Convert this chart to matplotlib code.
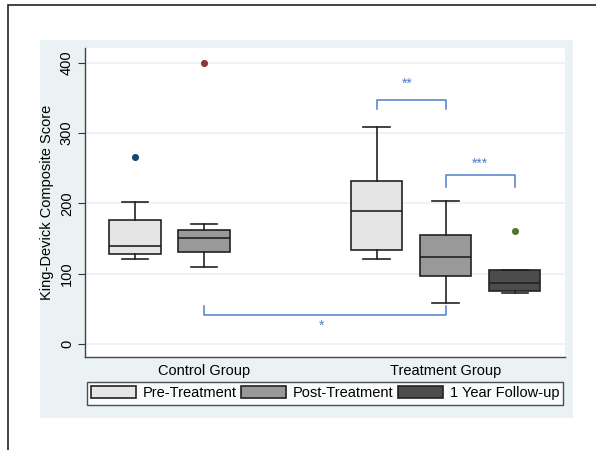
import matplotlib
matplotlib.use('Agg')
import matplotlib.pyplot as plt
from matplotlib.patches import Rectangle, Patch

plt.rcParams['font.family'] = ['Liberation Sans', 'DejaVu Sans']

# data (King-Devick composite score)
groups = ['Control Group', 'Treatment Group']
phases = ['Pre-Treatment', 'Post-Treatment', '1 Year Follow-up']
positions = [0, 1, 3.5, 4.5, 5.5]
phase_idx = [0, 1, 0, 1, 2]
whislo = [121, 109, 121, 58, 72]
q1 = [128, 131, 134, 97, 76]
med = [140, 151, 189, 124, 86]
q3 = [176, 162, 232, 155, 105]
whishi = [202, 170, 309, 203, 105]
fliers = [[266], [400], [], [], [161]]
group_centers = [1, 4.5]

fills = ['#e5e5e5', '#999999', '#4c4c4c']
flier_cols = ['#1a476f', '#90353b', None, None, '#55752f']
sig_col = '#4f7fc6'
bg = '#eaf2f3'

# significance brackets: (x0, x1, y_bar, y_leg, label, y_text, x_text)
brackets = [(3.5, 4.5, 347, 334, '**', 370, 3.95),
            (4.5, 5.5, 241, 223, '***', 256, 5.0),
            (1.0, 4.5, 41, 54, '*', 26, 2.7)]

fig = plt.figure(figsize=(5.96, 4.5), dpi=100)
fig.patch.set_facecolor('white')
fig.patches.append(Rectangle((40/596, 1-418/450), 533/596, 378/450,
                             transform=fig.transFigure, facecolor=bg, edgecolor='none', zorder=-2))
fig.patches.append(Rectangle((8/596, -0.1), 1.2, 1.1 - 5/450,
                             transform=fig.transFigure, facecolor='none', edgecolor='#222222',
                             linewidth=1.2, zorder=-1))

ax = fig.add_axes([85/596, 1-357/450, 480/596, 309/450])
ax.set_facecolor('white')

stats = []
for i in range(len(positions)):
    stats.append(dict(whislo=whislo[i], q1=q1[i], med=med[i], q3=q3[i],
                      whishi=whishi[i], fliers=[]))
bp = ax.bxp(stats, positions=positions, widths=0.75, capwidths=0.38,
            patch_artist=True, showfliers=False,
            boxprops=dict(linewidth=1.2, edgecolor='#222222'),
            medianprops=dict(color='#222222', linewidth=1.2),
            whiskerprops=dict(color='#222222', linewidth=1.2),
            capprops=dict(color='#222222', linewidth=1.2))
for b, p in zip(bp['boxes'], phase_idx):
    b.set_facecolor(fills[p])

for i, f in enumerate(fliers):
    if f:
        ax.scatter([positions[i]] * len(f), f, s=26, color=flier_cols[i], zorder=3, linewidths=0)

for x0, x1, yb, yl, lab, yt, xt in brackets:
    ax.plot([x0, x0, x1, x1], [yl, yb, yb, yl], color=sig_col, linewidth=1.1)
    ax.text(xt, yt, lab, color=sig_col, ha='center', va='center', fontsize=10)

ax.set_xlim(-0.725, 6.23)
ax.set_ylim(-18.6, 421)
ax.set_yticks([0, 100, 200, 300, 400])
ax.tick_params(axis='y', labelrotation=90, labelsize=10.5, length=5, color='#333333', pad=3)
for lab in ax.get_yticklabels():
    lab.set_va('center')
ax.set_xticks(group_centers)
ax.set_xticklabels(groups, fontsize=10.5)
ax.tick_params(axis='x', length=0, pad=5)
ax.grid(axis='y', color=bg, linewidth=1.2)
ax.set_axisbelow(True)
for s in ['top', 'right']:
    ax.spines[s].set_visible(False)
for s in ['left', 'bottom']:
    ax.spines[s].set_color('#444444')
    ax.spines[s].set_linewidth(1.0)
ax.set_ylabel('King-Devick Composite Score', fontsize=10.5, labelpad=4)

handles = [Patch(facecolor=fills[k], edgecolor='#222222', linewidth=1.2) for k in range(3)]
leg = ax.legend(handles, phases, loc='upper center', bbox_to_anchor=(0.5, -0.08),
                ncol=3, fontsize=10.5, frameon=True, fancybox=False, edgecolor='#222222',
                handlelength=3.1, handleheight=0.9, handletextpad=0.45, columnspacing=0.3,
                borderpad=0.3, borderaxespad=0)
leg.get_frame().set_linewidth(1.0)

fig.savefig('out.png', dpi=100)
